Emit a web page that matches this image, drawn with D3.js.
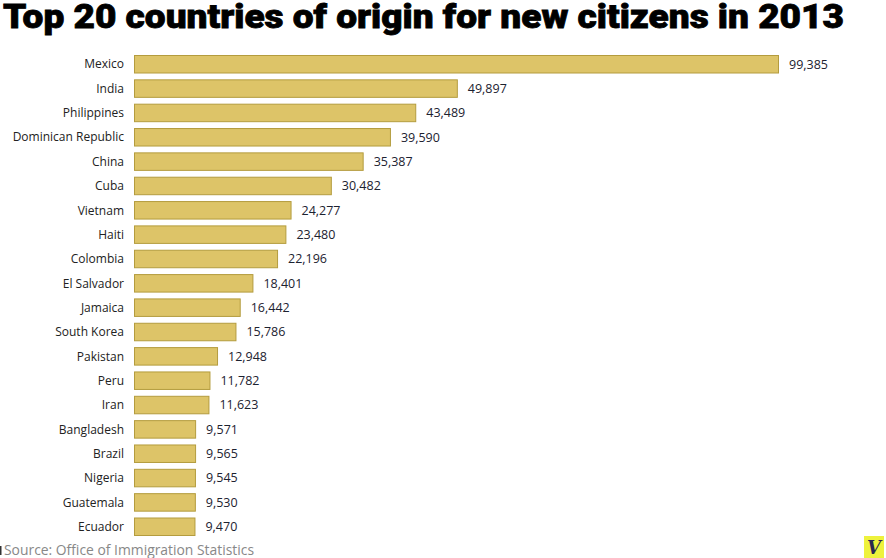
<!DOCTYPE html>
<html>
<head>
<meta charset="utf-8">
<script src="https://cdn.jsdelivr.net/npm/d3@7"></script>
<style>
  body { margin: 0; background: #fff; }
  svg { display: block; }
</style>
</head>
<body>
<div id="chart"></div>
<script>
// Top 20 countries of origin for new citizens, 2013
const countries = ['Mexico', 'India', 'Philippines', 'Dominican Republic', 'China', 'Cuba',
    'Vietnam', 'Haiti', 'Colombia', 'El Salvador', 'Jamaica', 'South Korea', 'Pakistan',
    'Peru', 'Iran', 'Bangladesh', 'Brazil', 'Nigeria', 'Guatemala', 'Ecuador'];
const newCitizens = [99385, 49897, 43489, 39590, 35387, 30482, 24277, 23480, 22196, 18401,
    16442, 15786, 12948, 11782, 11623, 9571, 9565, 9545, 9530, 9470];

const width = 886;
const height = 558;

const svg = d3.select('#chart').append('svg')
    .attr('width', width)
    .attr('height', height);

// Title (heavy face faked with a thin stroke)
svg.append('text')
    .attr('x', 3)
    .attr('y', 28)
    .attr('textLength', 841)
    .attr('lengthAdjust', 'spacingAndGlyphs')
    .style('font-family', 'Roboto, "Liberation Sans", sans-serif')
    .style('font-weight', 900)
    .style('font-size', '34px')
    .style('fill', '#000')
    .style('stroke', '#000')
    .style('stroke-width', 0.8)
    .text('Top 20 countries of origin for new citizens in 2013');

const data = countries.map((c, i) => ({ country: c, value: newCitizens[i] }));

const x = d3.scaleLinear()
    .domain([0, 99385])
    .range([134, 779]);

const y = d3.scaleBand()
    .domain(countries)
    .range([55, 536])
    .paddingInner(0.24)
    .paddingOuter(0);

const rows = svg.append('g').selectAll('g')
    .data(data)
    .enter()
    .append('g');

rows.append('rect')
    .attr('x', x(0) + 0.5)
    .attr('y', d => y(d.country) + 0.5)
    .attr('width', d => x(d.value) - x(0) - 1)
    .attr('height', y.bandwidth() - 1)
    .attr('fill', '#ddc468')
    .attr('stroke', '#b49c3e')
    .attr('stroke-width', 1);

rows.append('text')
    .attr('x', 124)
    .attr('y', d => y(d.country) + y.bandwidth() / 2)
    .attr('dy', '0.35em')
    .attr('text-anchor', 'end')
    .style('font-family', '"Open Sans", sans-serif')
    .style('font-size', '12px')
    .style('fill', '#222')
    .text(d => d.country);

rows.append('text')
    .attr('x', d => x(d.value) + 10)
    .attr('y', d => y(d.country) + y.bandwidth() / 2)
    .attr('dy', '0.35em')
    .style('font-family', '"Open Sans", sans-serif')
    .style('font-size', '12.5px')
    .style('fill', '#1c2230')
    .text(d => d3.format(',')(d.value));

// Source
svg.append('rect')
    .attr('x', 0).attr('y', 546)
    .attr('width', 1.5).attr('height', 9)
    .attr('fill', '#333');

svg.append('text')
    .attr('x', 4)
    .attr('y', 555)
    .attr('textLength', 250)
    .attr('lengthAdjust', 'spacingAndGlyphs')
    .style('font-family', '"Open Sans", sans-serif')
    .style('font-size', '14px')
    .style('fill', '#888')
    .text('Source: Office of Immigration Statistics');

// Logo
const logo = svg.append('g').attr('transform', 'translate(864,536)');
logo.append('rect')
    .attr('width', 20).attr('height', 22)
    .attr('fill', '#eef23c');
logo.append('text')
    .attr('x', 10).attr('y', 18)
    .attr('text-anchor', 'middle')
    .style('font-family', '"DejaVu Serif", serif')
    .style('font-style', 'italic')
    .style('font-weight', 'bold')
    .style('font-size', '18px')
    .style('fill', '#2a2850')
    .text('V');
</script>
</body>
</html>
